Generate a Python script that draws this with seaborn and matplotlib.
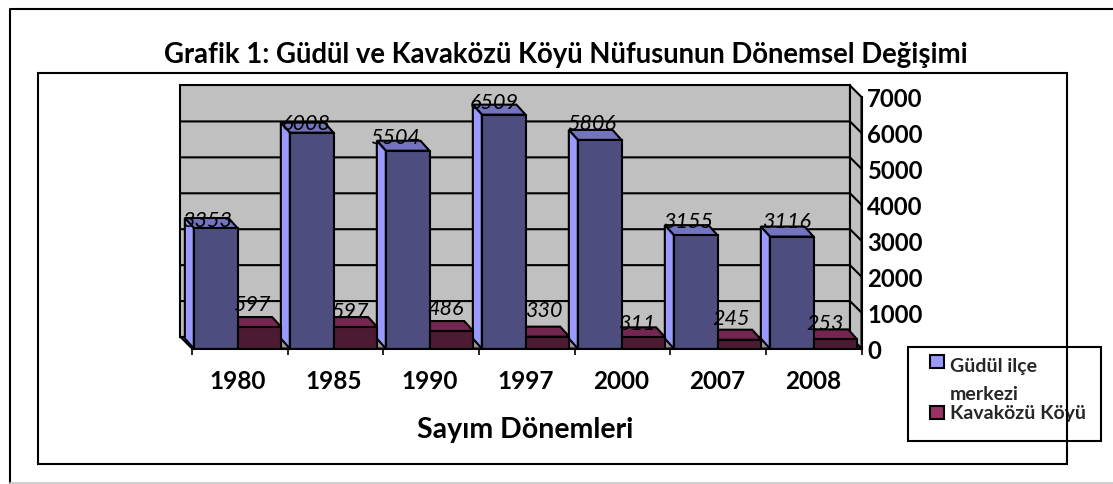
import numpy as np
import pandas as pd
import matplotlib
matplotlib.use('Agg')
import matplotlib.pyplot as plt
from matplotlib.lines import Line2D
from matplotlib.patches import Polygon, Rectangle
import seaborn as sns

years = ['1980', '1985', '1990', '1997', '2000', '2007', '2008']
gudul = [3353, 6008, 5504, 6509, 5806, 3155, 3116]
kavakozu = [597, 597, 486, 330, 311, 245, 253]
series_names = ['Güdül ilçe\nmerkezi', 'Kavaközü Köyü']
y_ticks = [0, 1000, 2000, 3000, 4000, 5000, 6000, 7000]

# renkler: on, ust, yan
blue = ['#4d4d80', '#7373bf', '#9999ff']
maroon = ['#4d1a33', '#732650', '#993366']
wall = '#c0c0c0'
floor = '#969696'

# etiket kaymalari (piksel)
label_dx = [[-9, -5, -13, -9, -8, -8, -5], [-7.5, -5.5, -5.5, -3.5, -6.5, -8.5, -10.5]]
label_dy = [[8, 10, 14, 13, 17, 14, 16], [23, 16, 23, 27, 14, 22, 16]]

W, H = 1113, 485
LW = 1.5

sns.set_theme(style='white')
plt.rcParams['font.family'] = ['Lato', 'DejaVu Sans']

df = pd.DataFrame({
    'year': years * 2,
    'pop': gudul + kavakozu,
    'series': [series_names[0]] * 7 + [series_names[1]] * 7,
})

fig = plt.figure(figsize=(W / 100, H / 100), dpi=100)
ax = fig.add_axes([189.5 / W, 1 - 349.5 / H, 672 / W, 251.5 / H])

sns.barplot(data=df, x='year', y='pop', hue='series', ax=ax, width=0.91, gap=0,
            palette=[blue[0], maroon[0]], edgecolor='black', linewidth=LW,
            saturation=1, zorder=4, legend=False)

ax.set_xlim(-0.5, 6.5)
ax.set_ylim(0, 7000)
ax.patch.set_visible(False)

# piksel -> veri
px_x = 1 / 96
px_y = 7000 / 251.5

# duvarlar
wx = 11.5 * px_x
wy = 11.5 * px_y
x_left = -0.474
x_right = 6.5
ax.add_patch(Polygon([(x_left - wx, wy), (x_right - wx, wy), (x_right - wx, 7000 + wy), (x_left - wx, 7000 + wy)],
                     fc=wall, ec='black', lw=LW, zorder=1, clip_on=False))
ax.add_patch(Polygon([(x_right - wx, wy), (x_right, 0), (x_right, 7000), (x_right - wx, 7000 + wy)],
                     fc=wall, ec='black', lw=LW, zorder=1, clip_on=False))
ax.add_patch(Polygon([(x_left - wx, wy), (x_right - wx, wy), (x_right, 0), (x_left, 0)],
                     fc=floor, ec='black', lw=LW, zorder=1, clip_on=False))
for t in y_ticks[1:-1]:
    ax.plot([x_left - wx, x_right - wx, x_right], [t + wy, t + wy, t], color='black', lw=LW,
            zorder=1.5, clip_on=False, solid_joinstyle='miter')

# 3B yuzler
dx = 9 * px_x
dy = 10 * px_y
for s, colors in enumerate([blue, maroon]):
    bars = ax.containers[s]
    for i, bar in enumerate(bars):
        x0 = bar.get_x()
        x1 = x0 + bar.get_width()
        h = bar.get_height()
        ax.add_patch(Polygon([(x0, h), (x1, h), (x1 - dx, h + dy), (x0 - dx, h + dy)],
                             fc=colors[1], ec='black', lw=LW, zorder=3, clip_on=False))
        ax.add_patch(Polygon([(x0, 0), (x0, h), (x0 - dx, h + dy), (x0 - dx, dy)],
                             fc=colors[2], ec='black', lw=LW, zorder=3, clip_on=False))
        ax.annotate(str(int(h)), xy=((x0 + x1) / 2, h), xytext=(label_dx[s][i], label_dy[s][i]),
                    textcoords='offset pixels', ha='center', va='center', style='italic',
                    fontsize=15.5, color='black', zorder=6, annotation_clip=False)

# eksenler
sns.despine(ax=ax, left=True, right=False, top=True, bottom=False)
for side in ['right', 'bottom']:
    ax.spines[side].set_linewidth(LW)
    ax.spines[side].set_color('black')
    ax.spines[side].set_zorder(5)
ax.spines['bottom'].set_bounds(x_left, x_right)
ax.yaxis.tick_right()
ax.set_yticks(y_ticks)
ax.set_yticklabels(y_ticks, fontweight='bold', fontsize=17.2, color='black')
ax.tick_params(axis='y', length=0, pad=4)
ax.set_xticks(range(7))
ax.set_xticklabels(years, fontweight='bold', fontsize=17.5, color='black')
ax.tick_params(axis='x', which='major', length=0, pad=15)
ax.set_xticks(np.linspace(x_left, x_right, 8), minor=True)
ax.tick_params(axis='x', which='minor', bottom=True, length=4, width=1.2, color='black')
ax.set_xlabel('Sayım Dönemleri', fontweight='bold', fontsize=20.5, color='black', labelpad=17)
ax.set_ylabel('')


def frame(x0, y0, x1, y1, lw=1.5):
    fig.add_artist(Rectangle((x0 / W, 1 - y1 / H), (x1 - x0) / W, (y1 - y0) / H, fill=False,
                             ec='black', lw=lw, transform=fig.transFigure))


def line(xs, ys, color='black', lw=1.5):
    fig.add_artist(Line2D([x / W for x in xs], [1 - y / H for y in ys], color=color, lw=lw,
                          transform=fig.transFigure))


# dis cerceve: sag kenar yok, alt kenar acik gri
line([9.5, 9.5, W], [484, 10, 10])
line([9.5, W], [484, 484], color='#c8c8c8', lw=1.2)
frame(37.5, 74, 1066.5, 465)
frame(908, 348, 1100.5, 441.5)

fig.text(565.5 / W, 1 - 55.5 / H, 'Grafik 1: Güdül ve Kavaközü Köyü Nüfusunun Dönemsel Değişimi',
         ha='center', va='center', fontweight='bold', fontsize=19.8, color='black')

# gosterge
handles = [Rectangle((0, 0), 1, 1, fc=blue[2], ec='black', lw=LW),
           Rectangle((0, 0), 1, 1, fc=maroon[2], ec='black', lw=LW)]
leg = ax.legend(handles, series_names, loc='upper left', frameon=False, ncol=1,
                bbox_to_anchor=(930 / W, 1 - 358 / H), bbox_transform=fig.transFigure,
                prop={'weight': 'bold', 'size': 14}, labelspacing=0.15,
                handlelength=0.7, handleheight=0.7, handletextpad=0.33, borderpad=0, borderaxespad=0)
leg.set_zorder(10)
leg.get_texts()[0].set_linespacing(1.75)
# ilk kare ust satira hizali
leg.legend_handles[0].set_y(13)
leg.legend_handles[1].set_y(-0.7)

fig.savefig('out.png', dpi=100)
